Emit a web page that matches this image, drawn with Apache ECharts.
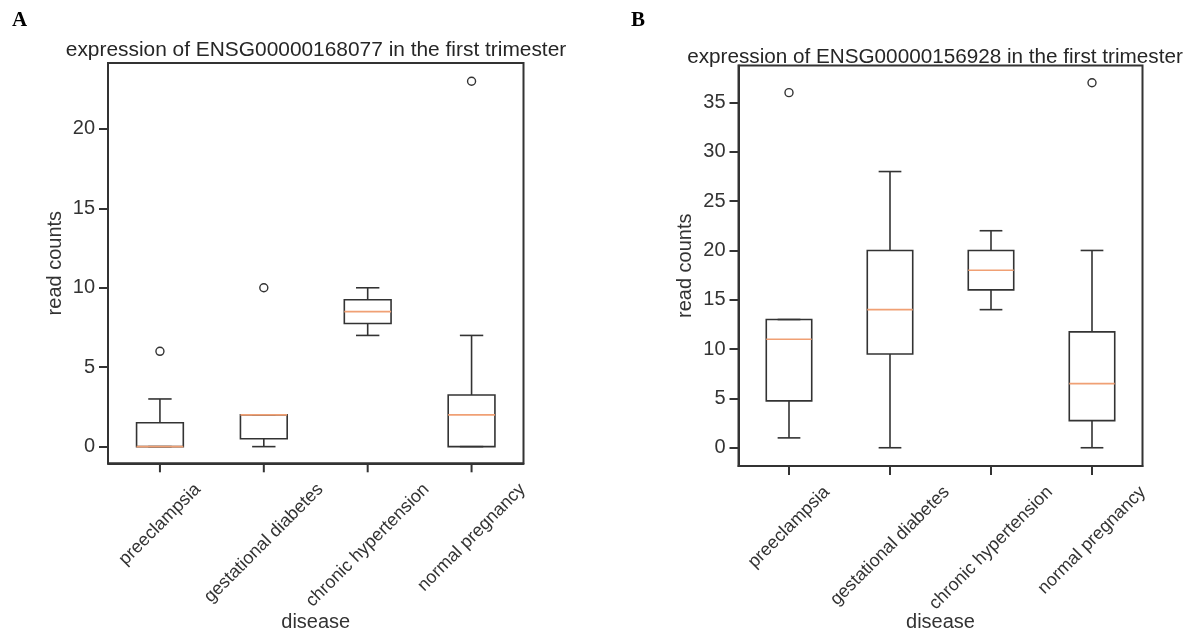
<!DOCTYPE html>
<html>
<head>
<meta charset="utf-8">
<script src="https://cdn.jsdelivr.net/npm/echarts@6/dist/echarts.min.js"></script>
<style>
  html, body { margin: 0; padding: 0; background: #fff; }
  #chart { width: 1186px; height: 633px; }
</style>
</head>
<body>
<div id="chart"></div>
<script>
const categories = ["preeclampsia", "gestational diabetes", "chronic hypertension", "normal pregnancy"];
// each row: low whisker, Q1, median, Q3, high whisker
const boxA = [
  [0, 0, 0, 1.5, 3],
  [0, 0.5, 2, 2, 2],
  [7, 7.75, 8.5, 9.25, 10],
  [0, 0, 2, 3.25, 7],
];
const outliersA = [[0, 6], [1, 10], [3, 23]];
const boxB = [
  [1, 4.75, 11, 13, 13],
  [0, 9.5, 14, 20, 28],
  [14, 16, 18, 20, 22],
  [0, 2.75, 6.5, 11.75, 20],
];
const outliersB = [[0, 36], [3, 37]];
const ticksA = [0, 5, 10, 15, 20];
const ticksB = [0, 5, 10, 15, 20, 25, 30, 35];

const ink = "#333";
const font = '"Liberation Sans", Arial, sans-serif';
const labelSize = 18;

const ctx = document.createElement("canvas").getContext("2d");
ctx.font = labelSize + "px " + font;

function makeRender(yMin) {
  return function (params, api) {
    const i = api.value(0);
    const lo = api.coord([i, api.value(1)]);
    const q1 = api.coord([i, api.value(2)]);
    const med = api.coord([i, api.value(3)]);
    const q3 = api.coord([i, api.value(4)]);
    const hi = api.coord([i, api.value(5)]);
    const bottom = api.coord([i, yMin])[1];
    const band = api.size([1, 0])[0];
    const bw = band * 0.45;
    const cw = bw / 2;
    const cx = lo[0];
    const line = { stroke: ink, lineWidth: 1.6 };
    const name = categories[i];
    const w = ctx.measureText(name).width;
    const bboxH = (w + labelSize * 1.15) * Math.SQRT1_2;
    return {
      type: "group",
      children: [
        { type: "rect", shape: { x: cx - bw / 2, y: q3[1], width: bw, height: q1[1] - q3[1] }, style: { fill: "none", stroke: ink, lineWidth: 1.6 } },
        { type: "line", shape: { x1: cx, y1: q1[1], x2: cx, y2: lo[1] }, style: line },
        { type: "line", shape: { x1: cx, y1: q3[1], x2: cx, y2: hi[1] }, style: line },
        { type: "line", shape: { x1: cx - cw / 2, y1: lo[1], x2: cx + cw / 2, y2: lo[1] }, style: line },
        { type: "line", shape: { x1: cx - cw / 2, y1: hi[1], x2: cx + cw / 2, y2: hi[1] }, style: line },
        { type: "line", shape: { x1: cx - bw / 2, y1: med[1], x2: cx + bw / 2, y2: med[1] }, style: { stroke: "#f0a074", lineWidth: 1.6 } },
        // tick mark below the frame
        { type: "line", shape: { x1: cx, y1: bottom, x2: cx, y2: bottom + 9 }, style: { stroke: ink, lineWidth: 2 } },
        {
          type: "text",
          x: cx,
          y: bottom + 16 + bboxH / 2,
          rotation: Math.PI / 4,
          style: { text: name, fontSize: labelSize, fontFamily: font, fill: ink, align: "center", verticalAlign: "middle" },
        },
      ],
    };
  };
}

function xAxisOf(grid) {
  return {
    type: "category",
    gridIndex: grid,
    data: categories,
    boundaryGap: true,
    name: "disease",
    nameLocation: "middle",
    nameGap: grid === 0 ? 149 : 146,
    nameTextStyle: { fontSize: 20, fontFamily: font, color: ink },
    axisLine: { onZero: false, lineStyle: { color: ink, width: 2 } },
    axisTick: { show: false },
    axisLabel: { show: false },
    splitLine: { show: false },
  };
}

function yAxisOf(grid, min, max, ticks) {
  return {
    type: "value",
    gridIndex: grid,
    min: min,
    max: max,
    name: "read counts",
    nameLocation: "middle",
    nameGap: 43,
    nameTextStyle: { fontSize: 20, fontFamily: font, color: ink },
    axisLine: { show: true, onZero: false, lineStyle: { color: ink, width: 2 } },
    axisTick: { show: true, length: 9, customValues: ticks, lineStyle: { color: ink, width: 2 } },
    axisLabel: { customValues: ticks, margin: 13, fontSize: 20, fontFamily: font, color: ink },
    splitLine: { show: false },
  };
}

function outlierSeries(idx, data) {
  return {
    type: "scatter",
    xAxisIndex: idx,
    yAxisIndex: idx,
    data: data,
    symbol: "circle",
    symbolSize: 8,
    itemStyle: { color: "#fff", borderColor: ink, borderWidth: 1.4, opacity: 1 },
    silent: true,
  };
}

const chart = echarts.init(document.getElementById("chart"));
const yMinA = -1.05, yMaxA = 24.15;
const yMinB = -1.85, yMaxB = 38.75;

chart.setOption({
  backgroundColor: "#fff",
  animation: false,
  title: [
    { text: "A", left: 12, top: 10, padding: 0, textStyle: { fontFamily: '"Liberation Serif", serif', fontWeight: "bold", fontSize: 21, color: "#000" } },
    { text: "B", left: 631, top: 10, padding: 0, textStyle: { fontFamily: '"Liberation Serif", serif', fontWeight: "bold", fontSize: 21, color: "#000" } },
    { text: "expression of ENSG00000168077 in the first trimester", left: 316, top: 40, padding: 0, textAlign: "center", textStyle: { fontFamily: font, fontWeight: "normal", fontSize: 20.9, color: "#262626" } },
    { text: "expression of ENSG00000156928 in the first trimester", left: 935, top: 47, padding: 0, textAlign: "center", textStyle: { fontFamily: font, fontWeight: "normal", fontSize: 20.7, color: "#262626" } },
  ],
  grid: [
    { left: 108, right: 662.5, top: 63, bottom: 169.7, outerBoundsMode: "none", show: true, borderColor: ink, borderWidth: 2 },
    { left: 738.5, right: 43.5, top: 65.5, bottom: 167, outerBoundsMode: "none", show: true, borderColor: ink, borderWidth: 2 },
  ],
  xAxis: [xAxisOf(0), xAxisOf(1)],
  yAxis: [yAxisOf(0, yMinA, yMaxA, ticksA), yAxisOf(1, yMinB, yMaxB, ticksB)],
  series: [
    {
      type: "custom",
      xAxisIndex: 0,
      yAxisIndex: 0,
      clip: false,
      silent: true,
      renderItem: makeRender(yMinA),
      encode: { x: 0, y: [1, 2, 3, 4, 5] },
      data: boxA.map((b, i) => [i].concat(b)),
    },
    {
      type: "custom",
      xAxisIndex: 1,
      yAxisIndex: 1,
      clip: false,
      silent: true,
      renderItem: makeRender(yMinB),
      encode: { x: 0, y: [1, 2, 3, 4, 5] },
      data: boxB.map((b, i) => [i].concat(b)),
    },
    outlierSeries(0, outliersA),
    outlierSeries(1, outliersB),
  ],
});
</script>
</body>
</html>
